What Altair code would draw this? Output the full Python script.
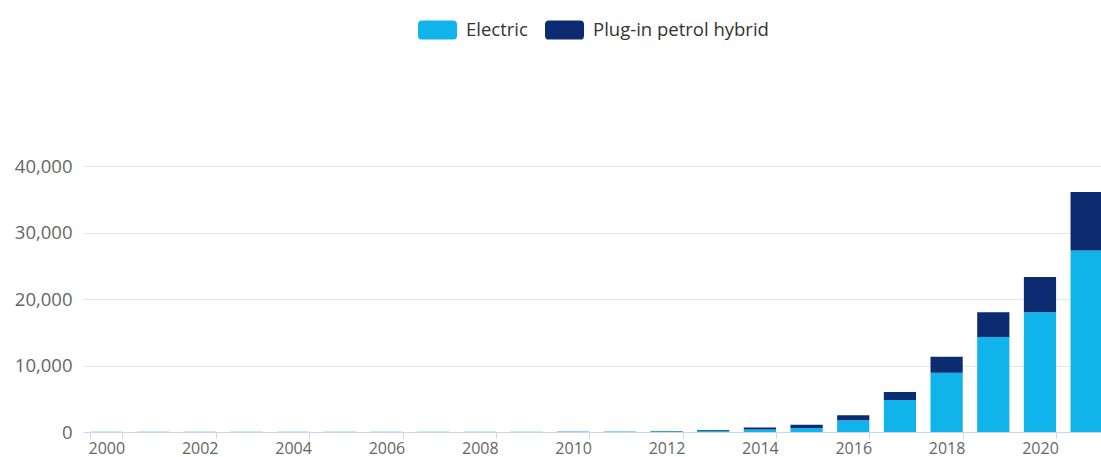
import altair as alt
import pandas as pd

# Light vehicle fleet by powertrain, 2000-2021
years = list(range(2000, 2022))
electric = [20, 20, 25, 25, 30, 30, 35, 40, 45, 50, 60, 80, 100, 200,
            360, 600, 1760, 4800, 8900, 14300, 18000, 27300]
plugin_hybrid = [0, 0, 0, 0, 0, 0, 0, 0, 0, 0, 5, 10, 50, 100,
                 300, 500, 750, 1200, 2400, 3700, 5300, 8800]
series = ["Electric", "Plug-in petrol hybrid"]
colors = ["#10b4ea", "#0c2b70"]
y_ticks = [0, 10000, 20000, 30000, 40000]
x_label_years = years[::2]

rows = []
for i, yr in enumerate(years):
    rows.append({"year": yr, "type": series[0], "count": electric[i], "order": 0})
    rows.append({"year": yr, "type": series[1], "count": plugin_hybrid[i], "order": 1})
df = pd.DataFrame(rows)

# rounded-rectangle legend swatch
swatch = ("M-0.8,-0.49L0.8,-0.49Q1,-0.49 1,-0.29L1,0.29Q1,0.49 0.8,0.49"
          "L-0.8,0.49Q-1,0.49 -1,0.29L-1,-0.29Q-1,-0.49 -0.8,-0.49Z")

band_span = 1027  # the last band runs past the right edge of the page

chart = (
    alt.Chart(df)
    .mark_bar()
    .encode(
        x=alt.X(
            "year:O",
            scale=alt.Scale(domain=years, range=[0, band_span],
                            paddingInner=0.31, paddingOuter=0.155),
            axis=alt.Axis(
                values=x_label_years, labelAngle=0, tickBand="extent",
                domainColor="#ccd6eb", tickColor="#ccd6eb", tickSize=6,
                labelFontSize=16, labelColor="#666666", labelPadding=2,
                title=None, grid=False,
            ),
        ),
        y=alt.Y(
            "count:Q",
            stack="zero",
            scale=alt.Scale(domain=[0, 40000], nice=False),
            axis=alt.Axis(
                values=y_ticks, format=",.0f", gridColor="#e6e6e6",
                domain=False, ticks=False, tickSize=0, labelPadding=11,
                labelFontSize=18.5, labelColor="#666666", title=None,
            ),
        ),
        color=alt.Color(
            "type:N",
            scale=alt.Scale(domain=series, range=colors),
            legend=alt.Legend(
                title=None, orient="none", direction="horizontal",
                legendX=335, legendY=-156,
                symbolType=swatch, symbolSize=1521, symbolStrokeWidth=0,
                symbolOpacity=1, labelFontSize=18.5, labelColor="#333333",
                labelOffset=9, columnPadding=17, labelLimit=400,
            ),
        ),
        order=alt.Order("order:Q"),
    )
    .properties(
        width=1018,
        height=266,
        autosize=alt.AutoSizeParams(type="none"),
        padding={"left": 83, "top": 166, "right": 0, "bottom": 25},
    )
    .configure(font="Open Sans")
    .configure_view(stroke=None)
)

chart.save("out.html", embed_options={"renderer": "svg", "actions": False})
